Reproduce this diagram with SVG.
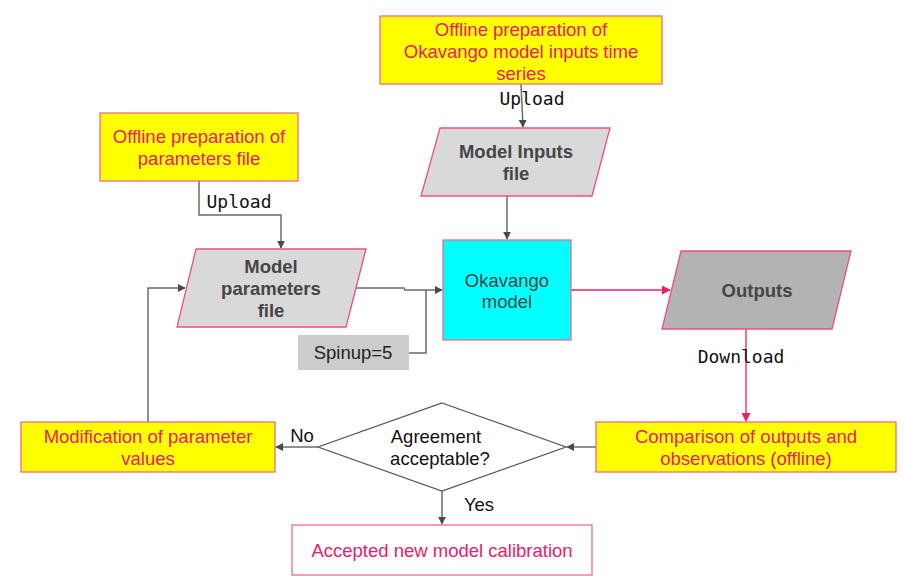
<svg xmlns="http://www.w3.org/2000/svg" width="905" height="582" viewBox="0 0 905 582">
<defs>
<style>
.box{fill:#ffff00;stroke:#ee6b8b;stroke-width:1.3}
.para{fill:#d9d9d9;stroke:#ee4f7c;stroke-width:1.3}
.t{font-family:"Liberation Sans",Arial,sans-serif;font-size:18.5px;text-anchor:middle}
.pk{fill:#e8206a}
.dk{fill:#454545}
.b{font-weight:bold}
.mono{font-family:"DejaVu Sans Mono",monospace;font-size:18px;text-anchor:middle;fill:#111}
.c{fill:none;stroke:#6b6b6b;stroke-width:1.5}
.cp{fill:none;stroke:#e8206a;stroke-width:1.3}
</style>
<marker id="ag" viewBox="0 0 10 10" refX="9" refY="5" markerWidth="8" markerHeight="8" markerUnits="userSpaceOnUse" orient="auto"><path d="M0,0 L10,5 L0,10 z" fill="#4a4a4a"/></marker>
<marker id="ap" viewBox="0 0 10 10" refX="9" refY="5" markerWidth="9" markerHeight="9" markerUnits="userSpaceOnUse" orient="auto"><path d="M0,0 L10,5 L0,10 z" fill="#e8206a"/></marker>
</defs>
<rect width="905" height="582" fill="#ffffff"/>

<g id="connectors">
<path class="c" d="M521,84 L523,127" marker-end="url(#ag)"/>
<text class="mono" x="532" y="105">Upload</text>
<path class="c" d="M507,196 L507,239" marker-end="url(#ag)"/>
<path class="c" d="M199,181 L199,215 L281,215 L281,248" marker-end="url(#ag)"/>
<text class="mono" x="239" y="208">Upload</text>
<path class="c" d="M356,288 L404,288 L405,290 L442,290" marker-end="url(#ag)"/>
<path class="c" d="M409,353 L426,353 L426,290"/>
<path class="cp" d="M571,290 L670,290" marker-end="url(#ap)"/>
<path class="cp" d="M746,329 L746,421" marker-end="url(#ap)"/>
<text class="mono" x="741" y="363">Download</text>
<path class="c" d="M596,447 L567,447" marker-end="url(#ag)"/>
<path class="c" d="M318,447 L276,447" marker-end="url(#ag)"/>
<text class="t" x="302" y="442" style="fill:#111">No</text>
<path class="c" d="M442,491 L442,524" marker-end="url(#ag)"/>
<text class="t" x="479" y="511" style="fill:#111">Yes</text>
<path class="c" d="M148,422 L148,288 L185,288" marker-end="url(#ag)"/>
</g>

<g id="prep-inputs">
<rect class="box" x="380" y="16" width="282" height="68"/>
<text class="t pk" x="521" y="36">Offline preparation of</text>
<text class="t pk" x="521" y="58">Okavango model inputs time</text>
<text class="t pk" x="521" y="80">series</text>
</g>

<g id="model-inputs">
<polygon class="para" points="440,128 610,128 592,196 421,196"/>
<text class="t dk b" x="516" y="158">Model Inputs</text>
<text class="t dk b" x="516" y="180">file</text>
</g>

<g id="prep-params">
<rect class="box" x="100" y="113" width="198" height="68"/>
<text class="t pk" x="199" y="143">Offline preparation of</text>
<text class="t pk" x="199" y="165">parameters file</text>
</g>

<g id="model-params">
<polygon class="para" points="196,249 366,249 346,327 177,327"/>
<text class="t dk b" x="271" y="273">Model</text>
<text class="t dk b" x="271" y="295">parameters</text>
<text class="t dk b" x="271" y="317">file</text>
</g>

<g id="spinup">
<rect x="298" y="335" width="111" height="35" fill="#cccccc"/>
<text class="t" x="353" y="359" style="fill:#222">Spinup=5</text>
</g>

<g id="okavango">
<rect x="443" y="240" width="128" height="100" fill="#00ffff" stroke="#ee6b8b" stroke-width="1.3"/>
<text class="t dk" x="507" y="287">Okavango</text>
<text class="t dk" x="507" y="308">model</text>
</g>

<g id="outputs">
<polygon class="para" points="681,251 851,251 832,329 662,329" style="fill:#b3b3b3"/>
<text class="t dk b" x="757" y="297">Outputs</text>
</g>

<g id="comparison">
<rect class="box" x="596" y="422" width="300" height="50"/>
<text class="t pk" x="746" y="443">Comparison of outputs and</text>
<text class="t pk" x="746" y="465">observations (offline)</text>
</g>

<g id="decision">
<polygon points="442,403 566,447 442,491 318,447" fill="#ffffff" stroke="#555555" stroke-width="1.2"/>
<text class="t" x="436" y="443" style="fill:#111">Agreement</text>
<text class="t" x="440" y="465" style="fill:#111">acceptable?</text>
</g>

<g id="modification">
<rect class="box" x="21" y="422" width="254" height="50"/>
<text class="t pk" x="148" y="443">Modification of parameter</text>
<text class="t pk" x="148" y="465">values</text>
</g>

<g id="accepted">
<rect x="292" y="525" width="300" height="50" fill="#ffffff" stroke="#ee6b8b" stroke-width="1.3"/>
<text class="t pk" x="442" y="557">Accepted new model calibration</text>
</g>
</svg>
